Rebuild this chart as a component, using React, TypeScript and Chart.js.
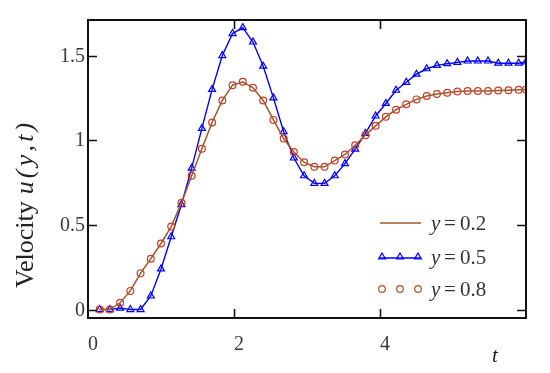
import React, { useEffect, useRef } from "react";
import { Chart, registerables } from "chart.js";

Chart.register(...registerables);

const tValues = [0.16, 0.30, 0.44, 0.58, 0.72, 0.86, 1.00, 1.14, 1.28, 1.42, 1.56, 1.70, 1.84, 1.98, 2.12, 2.26, 2.40, 2.54, 2.68, 2.82, 2.96, 3.10, 3.24, 3.38, 3.52, 3.66, 3.80, 3.94, 4.08, 4.22, 4.36, 4.50, 4.64, 4.78, 4.92, 5.06, 5.20, 5.34, 5.48, 5.62, 5.76, 5.90, 6.00];

const u02 = [0.00, 0.00, 0.04, 0.11, 0.215, 0.30, 0.39, 0.49, 0.63, 0.79, 0.95, 1.105, 1.235, 1.325, 1.345, 1.31, 1.235, 1.12, 1.01, 0.93, 0.87, 0.843, 0.843, 0.88, 0.916, 0.97, 1.03, 1.085, 1.138, 1.18, 1.212, 1.241, 1.261, 1.273, 1.28, 1.287, 1.29, 1.29, 1.29, 1.293, 1.295, 1.298, 1.30];

const u05 = [0.00, 0.00, 0.008, 0.00, 0.00, 0.08, 0.24, 0.43, 0.62, 0.835, 1.07, 1.30, 1.50, 1.63, 1.665, 1.58, 1.437, 1.25, 1.05, 0.895, 0.79, 0.745, 0.745, 0.79, 0.862, 0.947, 1.04, 1.143, 1.217, 1.295, 1.342, 1.39, 1.422, 1.442, 1.452, 1.46, 1.468, 1.468, 1.468, 1.455, 1.455, 1.455, 1.462];

const u08 = [0.00, 0.00, 0.04, 0.11, 0.215, 0.30, 0.39, 0.49, 0.63, 0.79, 0.95, 1.105, 1.235, 1.325, 1.345, 1.31, 1.235, 1.12, 1.01, 0.93, 0.87, 0.843, 0.843, 0.88, 0.916, 0.97, 1.03, 1.085, 1.138, 1.18, 1.212, 1.241, 1.261, 1.273, 1.28, 1.287, 1.29, 1.29, 1.29, 1.293, 1.295, 1.298, 1.30];

const xTicks = [0, 2, 4];
const xTickLabels = ["0", "2", "4"];
const yTicks = [0, 0.5, 1, 1.5];
const yTickLabels = ["0", "0.5", "1", "1.5"];
const legendValues = ["0.2", "0.5", "0.8"];

const BROWN = "#a4552a";
const BLUE = "#0000ff";
const RED = "#cc3a24";
const SERIF = "'Liberation Serif', 'DejaVu Serif', serif";

const decorPlugin = {
  id: "decor",
  afterDraw(chart: any) {
    const { ctx, chartArea } = chart;
    const { left, right, top, bottom } = chartArea;
    const xs = chart.scales.x;
    const ys = chart.scales.y;
    ctx.save();

    // frame
    ctx.strokeStyle = "#111";
    ctx.lineWidth = 2;
    ctx.strokeRect(left, top, right - left, bottom - top);

    // inward ticks
    const tl = 9;
    ctx.lineWidth = 1.6;
    ctx.beginPath();
    xTicks.forEach((v) => {
      if (v === 0) return;
      const px = Math.round(xs.getPixelForValue(v)) + 0.5;
      ctx.moveTo(px, bottom);
      ctx.lineTo(px, bottom - tl);
      ctx.moveTo(px, top);
      ctx.lineTo(px, top + tl);
    });
    yTicks.forEach((v) => {
      const py = Math.round(ys.getPixelForValue(v)) + 0.5;
      ctx.moveTo(left, py);
      ctx.lineTo(left + tl, py);
      ctx.moveTo(right, py);
      ctx.lineTo(right - tl, py);
    });
    ctx.stroke();

    // tick labels
    ctx.fillStyle = "#3a3a3a";
    ctx.font = `20px ${SERIF}`;
    ctx.textAlign = "center";
    ctx.textBaseline = "alphabetic";
    xTicks.forEach((v, i) => {
      const px = xs.getPixelForValue(v);
      ctx.fillText(xTickLabels[i], px + 5, 350);
    });
    ctx.textAlign = "right";
    ctx.textBaseline = "middle";
    yTicks.forEach((v, i) => {
      const py = ys.getPixelForValue(v);
      ctx.fillText(yTickLabels[i], left - 3, py + 1);
    });

    // x title
    ctx.font = `italic 21px ${SERIF}`;
    ctx.textAlign = "center";
    ctx.textBaseline = "alphabetic";
    ctx.fillStyle = "#222";
    ctx.fillText("t", 495, 362);

    // y title
    ctx.save();
    ctx.translate(33, 288);
    ctx.rotate(-Math.PI / 2);
    ctx.textAlign = "left";
    ctx.textBaseline = "alphabetic";
    ctx.font = `26px ${SERIF}`;
    ctx.fillText("Velocity", 0, 0);
    const w1 = ctx.measureText("Velocity").width;
    ctx.font = `italic 26px ${SERIF}`;
    const chars = ["u", "(", "y", ",", "t", ")"];
    let cx = w1 + 7;
    chars.forEach((c) => {
      ctx.fillText(c, cx, 0);
      cx += ctx.measureText(c).width + 3.2;
    });
    ctx.restore();

    // legend
    const rows = [223, 257, 289];
    const baselines = [230, 263.5, 296];
    ctx.strokeStyle = BROWN;
    ctx.lineWidth = 1.5;
    ctx.beginPath();
    ctx.moveTo(380, rows[0]);
    ctx.lineTo(421, rows[0]);
    ctx.stroke();
    ctx.strokeStyle = BLUE;
    ctx.beginPath();
    ctx.moveTo(380, rows[1] + 1);
    ctx.lineTo(420, rows[1] + 1);
    ctx.stroke();
    ctx.lineWidth = 1.2;
    [382, 400, 418].forEach((x) => {
      const r = 4;
      ctx.beginPath();
      ctx.moveTo(x, rows[1] - r);
      ctx.lineTo(x + r * 0.866, rows[1] + r * 0.5);
      ctx.lineTo(x - r * 0.866, rows[1] + r * 0.5);
      ctx.closePath();
      ctx.stroke();
    });
    ctx.strokeStyle = BROWN;
    [382, 400, 418].forEach((x) => {
      ctx.beginPath();
      ctx.arc(x, rows[2], 3.3, 0, Math.PI * 2);
      ctx.stroke();
    });
    ctx.fillStyle = "#333";
    ctx.textAlign = "left";
    ctx.textBaseline = "alphabetic";
    legendValues.forEach((val, i) => {
      ctx.font = `italic 21px ${SERIF}`;
      ctx.fillText("y", 431, baselines[i]);
      ctx.font = `21px ${SERIF}`;
      ctx.fillText("=", 444, baselines[i]);
      ctx.fillText(val, 460, baselines[i]);
    });

    ctx.restore();
  },
};

export default function App() {
  const ref = useRef<HTMLCanvasElement | null>(null);

  useEffect(() => {
    if (!ref.current) return;
    const mk = (arr: number[]) => tValues.map((t, i) => ({ x: t, y: arr[i] }));
    const chart = new Chart(ref.current, {
      type: "line",
      data: {
        datasets: [
          {
            label: "y = 0.2",
            data: mk(u02),
            borderColor: BROWN,
            borderWidth: 1.5,
            pointRadius: 0,
            fill: false,
            tension: 0,
          },
          {
            label: "y = 0.8",
            data: mk(u08),
            showLine: false,
            borderColor: RED,
            backgroundColor: "rgba(0,0,0,0)",
            pointStyle: "circle",
            pointRadius: 3.4,
            pointBorderWidth: 1.2,
            pointBorderColor: RED,
            pointBackgroundColor: "rgba(0,0,0,0)",
          },
          {
            label: "y = 0.5",
            data: mk(u05),
            borderColor: BLUE,
            borderWidth: 1.4,
            pointStyle: "triangle",
            pointRadius: 4,
            pointBorderWidth: 1.2,
            pointBorderColor: BLUE,
            pointBackgroundColor: "rgba(0,0,0,0)",
            fill: false,
            tension: 0,
          },
        ],
      },
      options: {
        animation: false,
        responsive: false,
        events: [],
        layout: { padding: { left: 80, right: 24, top: 20, bottom: 47 } },
        plugins: {
          legend: { display: false },
          tooltip: { enabled: false },
        },
        scales: {
          x: {
            type: "linear",
            min: 0,
            max: 6,
            ticks: { display: false, stepSize: 2 },
            grid: { display: false },
            border: { display: false },
          },
          y: {
            type: "linear",
            min: -0.05,
            max: 1.71,
            ticks: { display: false, stepSize: 0.5 },
            grid: { display: false },
            border: { display: false },
          },
        },
      },
      plugins: [decorPlugin],
    });
    return () => chart.destroy();
  }, []);

  return (
    <div style={{ position: "fixed", left: 0, top: 0, width: 550, height: 373, background: "#fff" }}>
      <canvas ref={ref} width={550} height={373} style={{ display: "block" }} />
    </div>
  );
}
